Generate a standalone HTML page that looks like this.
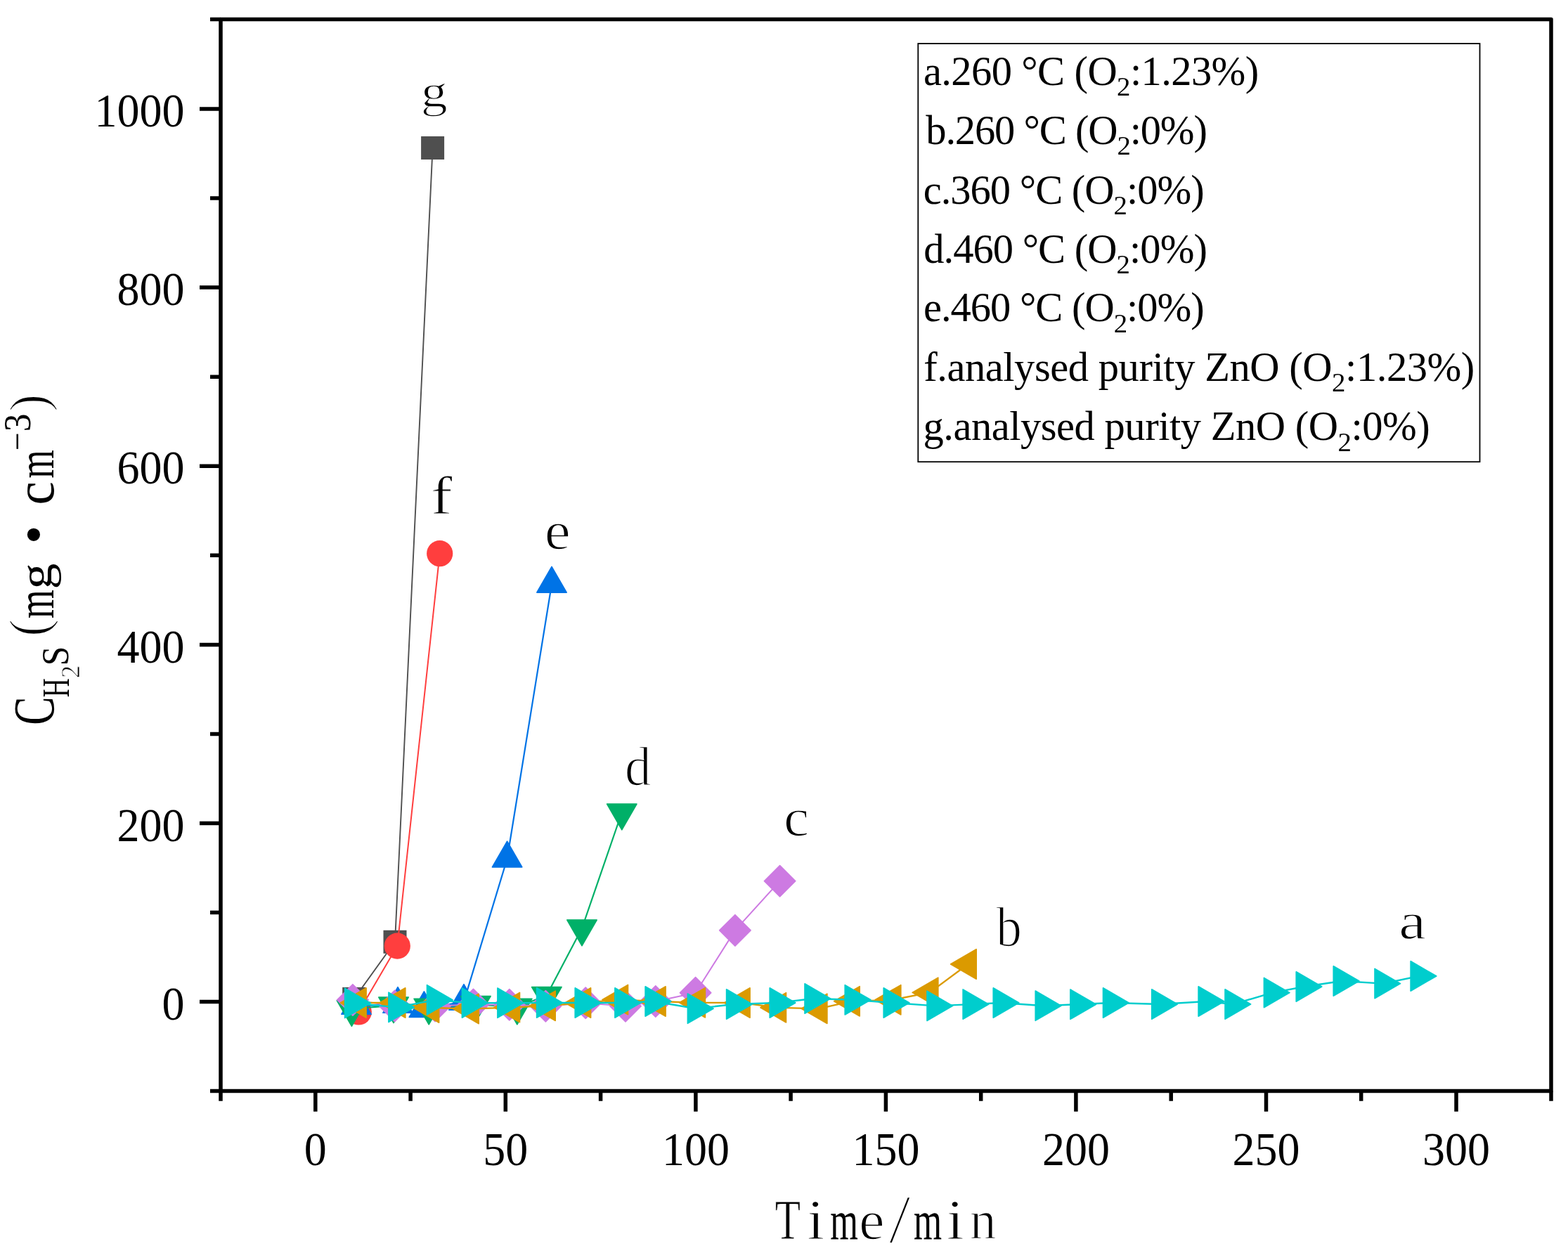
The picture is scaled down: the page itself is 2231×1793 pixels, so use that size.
<!DOCTYPE html><html><head><meta charset="utf-8"><title>H2S concentration vs time</title>
<style>html,body{margin:0;padding:0;background:#fff;overflow:hidden}svg{display:block}text{font-family:"Liberation Serif","Noto Serif CJK SC",serif;fill:#000;font-kerning:none}</style></head><body>
<svg width="2231" height="1793" viewBox="0 0 2231 1793">
<rect width="2231" height="1793" fill="#fff"/>
<polyline points="503.7,1421.4 562.0,1340.3 615.6,210.5" fill="none" stroke="#4f4f4f" stroke-width="1.9" stroke-linejoin="round"/>
<rect x="487.2" y="1404.9" width="33" height="33" fill="#4f4f4f"/>
<rect x="545.5" y="1323.8" width="33" height="33" fill="#4f4f4f"/>
<rect x="599.1" y="194.0" width="33" height="33" fill="#4f4f4f"/>
<polyline points="510.3,1440.0 565.3,1346.1 625.7,787.7" fill="none" stroke="#ff3e3e" stroke-width="2.0" stroke-linejoin="round"/>
<circle cx="510.3" cy="1440.0" r="18.6" fill="#ff3e3e"/>
<circle cx="565.3" cy="1346.1" r="18.6" fill="#ff3e3e"/>
<circle cx="625.7" cy="787.7" r="18.6" fill="#ff3e3e"/>
<polyline points="507.0,1431.4 566.0,1429.4 603.4,1435.6 660.0,1425.4 721.6,1222.0 785.0,831.2" fill="none" stroke="#0073e6" stroke-width="2.2" stroke-linejoin="round"/>
<polygon points="507.0,1406.7 528.2,1443.3 485.8,1443.3" fill="#0073e6" stroke="#0073e6" stroke-width="1.6" stroke-linejoin="round"/>
<polygon points="566.0,1404.7 587.2,1441.3 544.8,1441.3" fill="#0073e6" stroke="#0073e6" stroke-width="1.6" stroke-linejoin="round"/>
<polygon points="603.4,1410.9 624.6,1447.5 582.2,1447.5" fill="#0073e6" stroke="#0073e6" stroke-width="1.6" stroke-linejoin="round"/>
<polygon points="660.0,1400.7 681.2,1437.3 638.8,1437.3" fill="#0073e6" stroke="#0073e6" stroke-width="1.6" stroke-linejoin="round"/>
<polygon points="721.6,1197.2 742.8,1233.9 700.4,1233.9" fill="#0073e6" stroke="#0073e6" stroke-width="1.6" stroke-linejoin="round"/>
<polygon points="785.0,806.4 806.2,843.1 763.8,843.1" fill="#0073e6" stroke="#0073e6" stroke-width="1.6" stroke-linejoin="round"/>
<polyline points="500.4,1435.6 560.0,1430.9 610.2,1433.2 676.9,1429.4 735.8,1433.1 777.8,1416.4 828.0,1321.0 884.8,1156.0" fill="none" stroke="#00b068" stroke-width="2.2" stroke-linejoin="round"/>
<polygon points="500.4,1460.3 521.6,1423.7 479.2,1423.7" fill="#00b068" stroke="#00b068" stroke-width="1.6" stroke-linejoin="round"/>
<polygon points="560.0,1455.6 581.2,1419.0 538.8,1419.0" fill="#00b068" stroke="#00b068" stroke-width="1.6" stroke-linejoin="round"/>
<polygon points="610.2,1457.9 631.4,1421.2 589.0,1421.2" fill="#00b068" stroke="#00b068" stroke-width="1.6" stroke-linejoin="round"/>
<polygon points="676.9,1454.1 698.1,1417.5 655.7,1417.5" fill="#00b068" stroke="#00b068" stroke-width="1.6" stroke-linejoin="round"/>
<polygon points="735.8,1457.8 757.0,1421.2 714.6,1421.2" fill="#00b068" stroke="#00b068" stroke-width="1.6" stroke-linejoin="round"/>
<polygon points="777.8,1441.1 799.0,1404.5 756.6,1404.5" fill="#00b068" stroke="#00b068" stroke-width="1.6" stroke-linejoin="round"/>
<polygon points="828.0,1345.8 849.2,1309.1 806.8,1309.1" fill="#00b068" stroke="#00b068" stroke-width="1.6" stroke-linejoin="round"/>
<polygon points="884.8,1180.8 906.0,1144.1 863.6,1144.1" fill="#00b068" stroke="#00b068" stroke-width="1.6" stroke-linejoin="round"/>
<polyline points="501.9,1422.9 561.6,1431.4 619.0,1431.6 673.5,1429.5 724.8,1429.7 776.4,1431.8 833.2,1427.3 890.0,1431.8 932.8,1425.0 989.6,1412.7 1045.9,1323.9 1109.6,1253.7" fill="none" stroke="#cd7ae2" stroke-width="2.0" stroke-linejoin="round"/>
<polygon points="501.9,1400.7 524.1,1422.9 501.9,1445.1 479.7,1422.9" fill="#cd7ae2" stroke="#cd7ae2" stroke-width="1.6" stroke-linejoin="round"/>
<polygon points="561.6,1409.2 583.8,1431.4 561.6,1453.6 539.4,1431.4" fill="#cd7ae2" stroke="#cd7ae2" stroke-width="1.6" stroke-linejoin="round"/>
<polygon points="619.0,1409.4 641.2,1431.6 619.0,1453.8 596.8,1431.6" fill="#cd7ae2" stroke="#cd7ae2" stroke-width="1.6" stroke-linejoin="round"/>
<polygon points="673.5,1407.3 695.7,1429.5 673.5,1451.7 651.3,1429.5" fill="#cd7ae2" stroke="#cd7ae2" stroke-width="1.6" stroke-linejoin="round"/>
<polygon points="724.8,1407.5 747.0,1429.7 724.8,1451.9 702.6,1429.7" fill="#cd7ae2" stroke="#cd7ae2" stroke-width="1.6" stroke-linejoin="round"/>
<polygon points="776.4,1409.6 798.6,1431.8 776.4,1454.0 754.2,1431.8" fill="#cd7ae2" stroke="#cd7ae2" stroke-width="1.6" stroke-linejoin="round"/>
<polygon points="833.2,1405.1 855.4,1427.3 833.2,1449.5 811.0,1427.3" fill="#cd7ae2" stroke="#cd7ae2" stroke-width="1.6" stroke-linejoin="round"/>
<polygon points="890.0,1409.6 912.2,1431.8 890.0,1454.0 867.8,1431.8" fill="#cd7ae2" stroke="#cd7ae2" stroke-width="1.6" stroke-linejoin="round"/>
<polygon points="932.8,1402.8 955.0,1425.0 932.8,1447.2 910.6,1425.0" fill="#cd7ae2" stroke="#cd7ae2" stroke-width="1.6" stroke-linejoin="round"/>
<polygon points="989.6,1390.5 1011.8,1412.7 989.6,1434.9 967.4,1412.7" fill="#cd7ae2" stroke="#cd7ae2" stroke-width="1.6" stroke-linejoin="round"/>
<polygon points="1045.9,1301.7 1068.1,1323.9 1045.9,1346.1 1023.7,1323.9" fill="#cd7ae2" stroke="#cd7ae2" stroke-width="1.6" stroke-linejoin="round"/>
<polygon points="1109.6,1231.5 1131.8,1253.7 1109.6,1275.9 1087.4,1253.7" fill="#cd7ae2" stroke="#cd7ae2" stroke-width="1.6" stroke-linejoin="round"/>
<polyline points="509.2,1427.0 564.8,1427.0 612.6,1434.0 669.3,1435.5 727.5,1433.6 778.3,1431.3 828.7,1427.0 881.5,1422.6 935.2,1425.0 991.4,1426.8 1055.2,1427.0 1106.6,1433.8 1165.0,1435.3 1211.3,1424.8 1269.9,1422.8 1322.8,1412.4 1377.3,1372.0" fill="none" stroke="#db9a00" stroke-width="2.3" stroke-linejoin="round"/>
<polygon points="484.4,1427.0 521.1,1405.8 521.1,1448.2" fill="#db9a00" stroke="#db9a00" stroke-width="1.6" stroke-linejoin="round"/>
<polygon points="540.0,1427.0 576.8,1405.8 576.8,1448.2" fill="#db9a00" stroke="#db9a00" stroke-width="1.6" stroke-linejoin="round"/>
<polygon points="587.9,1434.0 624.6,1412.8 624.6,1455.2" fill="#db9a00" stroke="#db9a00" stroke-width="1.6" stroke-linejoin="round"/>
<polygon points="644.5,1435.5 681.2,1414.3 681.2,1456.7" fill="#db9a00" stroke="#db9a00" stroke-width="1.6" stroke-linejoin="round"/>
<polygon points="702.8,1433.6 739.5,1412.4 739.5,1454.8" fill="#db9a00" stroke="#db9a00" stroke-width="1.6" stroke-linejoin="round"/>
<polygon points="753.5,1431.3 790.2,1410.1 790.2,1452.5" fill="#db9a00" stroke="#db9a00" stroke-width="1.6" stroke-linejoin="round"/>
<polygon points="803.9,1427.0 840.6,1405.8 840.6,1448.2" fill="#db9a00" stroke="#db9a00" stroke-width="1.6" stroke-linejoin="round"/>
<polygon points="856.8,1422.6 893.5,1401.4 893.5,1443.8" fill="#db9a00" stroke="#db9a00" stroke-width="1.6" stroke-linejoin="round"/>
<polygon points="910.4,1425.0 947.1,1403.8 947.1,1446.2" fill="#db9a00" stroke="#db9a00" stroke-width="1.6" stroke-linejoin="round"/>
<polygon points="966.6,1426.8 1003.4,1405.6 1003.4,1448.0" fill="#db9a00" stroke="#db9a00" stroke-width="1.6" stroke-linejoin="round"/>
<polygon points="1030.5,1427.0 1067.1,1405.8 1067.1,1448.2" fill="#db9a00" stroke="#db9a00" stroke-width="1.6" stroke-linejoin="round"/>
<polygon points="1081.9,1433.8 1118.5,1412.6 1118.5,1455.0" fill="#db9a00" stroke="#db9a00" stroke-width="1.6" stroke-linejoin="round"/>
<polygon points="1140.2,1435.3 1176.9,1414.1 1176.9,1456.5" fill="#db9a00" stroke="#db9a00" stroke-width="1.6" stroke-linejoin="round"/>
<polygon points="1186.6,1424.8 1223.2,1403.6 1223.2,1446.0" fill="#db9a00" stroke="#db9a00" stroke-width="1.6" stroke-linejoin="round"/>
<polygon points="1245.2,1422.8 1281.8,1401.6 1281.8,1444.0" fill="#db9a00" stroke="#db9a00" stroke-width="1.6" stroke-linejoin="round"/>
<polygon points="1298.1,1412.4 1334.8,1391.2 1334.8,1433.6" fill="#db9a00" stroke="#db9a00" stroke-width="1.6" stroke-linejoin="round"/>
<polygon points="1352.6,1372.0 1389.2,1350.8 1389.2,1393.2" fill="#db9a00" stroke="#db9a00" stroke-width="1.6" stroke-linejoin="round"/>
<polyline points="502.6,1427.4 564.9,1433.4 619.5,1422.9 669.3,1427.1 719.9,1427.2 775.6,1427.0 830.2,1427.0 886.8,1427.0 930.1,1425.0 990.4,1435.2 1045.5,1429.0 1107.2,1427.0 1156.9,1421.0 1214.2,1422.8 1269.2,1427.0 1330.9,1431.4 1382.0,1429.1 1425.1,1427.0 1485.1,1431.2 1534.8,1429.2 1581.4,1427.0 1650.6,1429.0 1717.0,1425.0 1754.9,1429.0 1810.3,1412.6 1856.1,1404.0 1909.2,1396.0 1967.9,1399.6 2019.0,1389.0" fill="none" stroke="#00cdcd" stroke-width="2.4" stroke-linejoin="round"/>
<polygon points="527.4,1427.4 490.6,1406.2 490.6,1448.6" fill="#00cdcd" stroke="#00cdcd" stroke-width="1.6" stroke-linejoin="round"/>
<polygon points="589.6,1433.4 552.9,1412.2 552.9,1454.6" fill="#00cdcd" stroke="#00cdcd" stroke-width="1.6" stroke-linejoin="round"/>
<polygon points="644.2,1422.9 607.5,1401.7 607.5,1444.1" fill="#00cdcd" stroke="#00cdcd" stroke-width="1.6" stroke-linejoin="round"/>
<polygon points="694.1,1427.1 657.4,1405.9 657.4,1448.3" fill="#00cdcd" stroke="#00cdcd" stroke-width="1.6" stroke-linejoin="round"/>
<polygon points="744.6,1427.2 707.9,1406.0 707.9,1448.4" fill="#00cdcd" stroke="#00cdcd" stroke-width="1.6" stroke-linejoin="round"/>
<polygon points="800.4,1427.0 763.6,1405.8 763.6,1448.2" fill="#00cdcd" stroke="#00cdcd" stroke-width="1.6" stroke-linejoin="round"/>
<polygon points="855.0,1427.0 818.2,1405.8 818.2,1448.2" fill="#00cdcd" stroke="#00cdcd" stroke-width="1.6" stroke-linejoin="round"/>
<polygon points="911.6,1427.0 874.9,1405.8 874.9,1448.2" fill="#00cdcd" stroke="#00cdcd" stroke-width="1.6" stroke-linejoin="round"/>
<polygon points="954.9,1425.0 918.1,1403.8 918.1,1446.2" fill="#00cdcd" stroke="#00cdcd" stroke-width="1.6" stroke-linejoin="round"/>
<polygon points="1015.1,1435.2 978.4,1414.0 978.4,1456.4" fill="#00cdcd" stroke="#00cdcd" stroke-width="1.6" stroke-linejoin="round"/>
<polygon points="1070.2,1429.0 1033.6,1407.8 1033.6,1450.2" fill="#00cdcd" stroke="#00cdcd" stroke-width="1.6" stroke-linejoin="round"/>
<polygon points="1131.9,1427.0 1095.2,1405.8 1095.2,1448.2" fill="#00cdcd" stroke="#00cdcd" stroke-width="1.6" stroke-linejoin="round"/>
<polygon points="1181.6,1421.0 1145.0,1399.8 1145.0,1442.2" fill="#00cdcd" stroke="#00cdcd" stroke-width="1.6" stroke-linejoin="round"/>
<polygon points="1238.9,1422.8 1202.2,1401.6 1202.2,1444.0" fill="#00cdcd" stroke="#00cdcd" stroke-width="1.6" stroke-linejoin="round"/>
<polygon points="1293.9,1427.0 1257.2,1405.8 1257.2,1448.2" fill="#00cdcd" stroke="#00cdcd" stroke-width="1.6" stroke-linejoin="round"/>
<polygon points="1355.6,1431.4 1319.0,1410.2 1319.0,1452.6" fill="#00cdcd" stroke="#00cdcd" stroke-width="1.6" stroke-linejoin="round"/>
<polygon points="1406.8,1429.1 1370.1,1407.9 1370.1,1450.3" fill="#00cdcd" stroke="#00cdcd" stroke-width="1.6" stroke-linejoin="round"/>
<polygon points="1449.8,1427.0 1413.2,1405.8 1413.2,1448.2" fill="#00cdcd" stroke="#00cdcd" stroke-width="1.6" stroke-linejoin="round"/>
<polygon points="1509.8,1431.2 1473.2,1410.0 1473.2,1452.4" fill="#00cdcd" stroke="#00cdcd" stroke-width="1.6" stroke-linejoin="round"/>
<polygon points="1559.5,1429.2 1522.9,1408.0 1522.9,1450.4" fill="#00cdcd" stroke="#00cdcd" stroke-width="1.6" stroke-linejoin="round"/>
<polygon points="1606.1,1427.0 1569.5,1405.8 1569.5,1448.2" fill="#00cdcd" stroke="#00cdcd" stroke-width="1.6" stroke-linejoin="round"/>
<polygon points="1675.3,1429.0 1638.7,1407.8 1638.7,1450.2" fill="#00cdcd" stroke="#00cdcd" stroke-width="1.6" stroke-linejoin="round"/>
<polygon points="1741.8,1425.0 1705.1,1403.8 1705.1,1446.2" fill="#00cdcd" stroke="#00cdcd" stroke-width="1.6" stroke-linejoin="round"/>
<polygon points="1779.6,1429.0 1743.0,1407.8 1743.0,1450.2" fill="#00cdcd" stroke="#00cdcd" stroke-width="1.6" stroke-linejoin="round"/>
<polygon points="1835.0,1412.6 1798.4,1391.4 1798.4,1433.8" fill="#00cdcd" stroke="#00cdcd" stroke-width="1.6" stroke-linejoin="round"/>
<polygon points="1880.8,1404.0 1844.2,1382.8 1844.2,1425.2" fill="#00cdcd" stroke="#00cdcd" stroke-width="1.6" stroke-linejoin="round"/>
<polygon points="1933.9,1396.0 1897.2,1374.8 1897.2,1417.2" fill="#00cdcd" stroke="#00cdcd" stroke-width="1.6" stroke-linejoin="round"/>
<polygon points="1992.6,1399.6 1956.0,1378.4 1956.0,1420.8" fill="#00cdcd" stroke="#00cdcd" stroke-width="1.6" stroke-linejoin="round"/>
<polygon points="2043.8,1389.0 2007.1,1367.8 2007.1,1410.2" fill="#00cdcd" stroke="#00cdcd" stroke-width="1.6" stroke-linejoin="round"/>
<path d="M314.0,1552.5 L314.0,27.5 L2207.0,27.5 L2207.0,1552.5 Z" fill="none" stroke="#000" stroke-width="5.5" stroke-linejoin="round"/>
<path d="M299.0,1552.5 L314.0,1552.5 M284.0,1425.6 L314.0,1425.6 M299.0,1298.5 L314.0,1298.5 M284.0,1171.5 L314.0,1171.5 M299.0,1044.4 L314.0,1044.4 M284.0,917.4 L314.0,917.4 M299.0,790.3 L314.0,790.3 M284.0,663.2 L314.0,663.2 M299.0,536.2 L314.0,536.2 M284.0,409.1 L314.0,409.1 M299.0,282.1 L314.0,282.1 M284.0,155.0 L314.0,155.0 M299.0,27.5 L314.0,27.5 M314.0,1552.5 L314.0,1566.7 M448.8,1552.5 L448.8,1581.7 M584.1,1552.5 L584.1,1566.7 M719.3,1552.5 L719.3,1581.7 M854.6,1552.5 L854.6,1566.7 M989.9,1552.5 L989.9,1581.7 M1125.1,1552.5 L1125.1,1566.7 M1260.4,1552.5 L1260.4,1581.7 M1395.7,1552.5 L1395.7,1566.7 M1530.9,1552.5 L1530.9,1581.7 M1666.2,1552.5 L1666.2,1566.7 M1801.5,1552.5 L1801.5,1581.7 M1936.7,1552.5 L1936.7,1566.7 M2072.0,1552.5 L2072.0,1581.7 M2207.0,1552.5 L2207.0,1566.7" stroke="#000" stroke-width="5.5" fill="none"/>
<text font-size="64" text-anchor="end" transform="translate(262.4 1450.7) scale(1 1.052)">0</text>
<text font-size="64" text-anchor="end" transform="translate(262.4 1196.6) scale(1 1.052)">200</text>
<text font-size="64" text-anchor="end" transform="translate(262.4 942.5) scale(1 1.052)">400</text>
<text font-size="64" text-anchor="end" transform="translate(262.4 688.3) scale(1 1.052)">600</text>
<text font-size="64" text-anchor="end" transform="translate(262.4 434.2) scale(1 1.052)">800</text>
<text font-size="64" text-anchor="end" transform="translate(262.4 180.1) scale(1 1.052)">1000</text>
<text font-size="64" text-anchor="middle" transform="translate(448.8 1657.6) scale(1 1.055)">0</text>
<text font-size="64" text-anchor="middle" transform="translate(719.3 1657.6) scale(1 1.055)">50</text>
<text font-size="64" text-anchor="middle" transform="translate(989.9 1657.6) scale(1 1.055)">100</text>
<text font-size="64" text-anchor="middle" transform="translate(1260.4 1657.6) scale(1 1.055)">150</text>
<text font-size="64" text-anchor="middle" transform="translate(1530.9 1657.6) scale(1 1.055)">200</text>
<text font-size="64" text-anchor="middle" transform="translate(1801.5 1657.6) scale(1 1.055)">250</text>
<text font-size="64" text-anchor="middle" transform="translate(2072.0 1657.6) scale(1 1.055)">300</text>
<g><text font-size="80" stroke="#fff" stroke-width="0.79" transform="matrix(0.7422 0 0 1.0172 1102.83 1762.50)">T</text><text font-size="80" stroke="#fff" stroke-width="1.29" transform="matrix(1.1272 0 0 1.0064 1148.33 1762.50)">i</text><text font-size="80" transform="matrix(0.6377 0 0 0.9687 1181.23 1762.50)">m</text><text font-size="80" stroke="#fff" stroke-width="1.65" transform="matrix(1.0338 0 0 0.9693 1222.07 1762.52)">e</text><text font-size="80" stroke="#fff" stroke-width="1.93" transform="matrix(1.4311 0 0 1.2444 1264.14 1767.90)">/</text><text font-size="80" transform="matrix(0.6444 0 0 0.9687 1299.92 1762.50)">m</text><text font-size="80" stroke="#fff" stroke-width="1.29" transform="matrix(1.1272 0 0 1.0064 1346.78 1762.50)">i</text><text font-size="80" stroke="#fff" stroke-width="1.55" transform="matrix(0.9470 0 0 0.9687 1379.66 1762.50)">n</text></g>
<g><text font-size="80" transform="matrix(0 -0.7553 1.0193 0 75.78 1031.78)">C</text><text font-size="80" transform="matrix(0 -0.4669 0.6775 0 97.90 992.18)">H</text><text font-size="80" stroke="#fff" stroke-width="1.76" transform="matrix(0 -0.4551 0.4815 0 112.70 964.90)">2</text><text font-size="80" transform="matrix(0 -0.6206 0.6901 0 97.35 947.23)">S</text><text font-size="80" stroke="#fff" stroke-width="1.72" transform="matrix(0 -0.9290 0.9730 0 66.82 905.67)">(</text><text font-size="80" transform="matrix(0 -0.6545 0.9581 0 75.80 880.00)">m</text><text font-size="80" transform="matrix(0 -0.9247 0.8076 0 72.84 838.38)">g</text><text font-size="80" transform="matrix(0 -0.9611 0.9506 0 73.02 774.21)">•</text><text font-size="80" transform="matrix(0 -0.9400 0.9693 0 75.92 718.46)">c</text><text font-size="80" transform="matrix(0 -0.6461 0.9262 0 76.30 680.39)">m</text><text font-size="80" transform="matrix(0 -0.5699 0.6500 0 41.56 641.18)">−</text><text font-size="80" transform="matrix(0 -0.6416 0.6771 0 42.86 614.16)">3</text><text font-size="80" stroke="#fff" stroke-width="1.71" transform="matrix(0 -0.9339 0.9606 0 66.43 585.79)">)</text></g>
<g><text font-size="80" stroke="#fff" stroke-width="1.72" transform="matrix(0.9503 0 0 0.8128 598.63 151.56)">g</text><text font-size="80" stroke="#fff" stroke-width="1.28" transform="matrix(1.1589 0 0 0.9393 612.63 730.70)">f</text><text font-size="80" stroke="#fff" stroke-width="1.47" transform="matrix(1.0439 0 0 0.9537 774.64 780.94)">e</text><text font-size="80" stroke="#fff" stroke-width="1.63" transform="matrix(0.9375 0 0 0.9801 889.10 1116.72)">d</text><text font-size="80" stroke="#fff" stroke-width="1.47" transform="matrix(1.0200 0 0 0.9511 1114.90 1189.44)">c</text><text font-size="80" stroke="#fff" stroke-width="1.59" transform="matrix(0.9145 0 0 1.0050 1417.20 1345.80)">b</text><text font-size="80" stroke="#fff" stroke-width="1.50" transform="matrix(1.1044 0 0 0.9342 1990.01 1335.75)">a</text></g>
<rect x="1306.3" y="62.0" width="799.2" height="595.2" fill="none" stroke="#000" stroke-width="1.8"/>
<text x="1313.95" y="121.0" font-size="58.5" textLength="477.2" lengthAdjust="spacing">a.260 °C (O<tspan font-size="38.8" dy="15.4">2</tspan><tspan dy="-15.4">:1.23%)</tspan></text>
<text x="1317.30" y="204.9" font-size="58.5" textLength="400.6" lengthAdjust="spacing">b.260 °C (O<tspan font-size="38.8" dy="15.4">2</tspan><tspan dy="-15.4">:0%)</tspan></text>
<text x="1313.68" y="290.0" font-size="58.5" textLength="400.1" lengthAdjust="spacing">c.360 °C (O<tspan font-size="38.8" dy="15.4">2</tspan><tspan dy="-15.4">:0%)</tspan></text>
<text x="1314.19" y="373.7" font-size="58.5" textLength="403.7" lengthAdjust="spacing">d.460 °C (O<tspan font-size="38.8" dy="15.4">2</tspan><tspan dy="-15.4">:0%)</tspan></text>
<text x="1314.02" y="457.3" font-size="58.5" textLength="399.8" lengthAdjust="spacing">e.460 °C (O<tspan font-size="38.8" dy="15.4">2</tspan><tspan dy="-15.4">:0%)</tspan></text>
<text x="1314.19" y="541.6" font-size="58.5" textLength="784.1" lengthAdjust="spacing">f.analysed purity ZnO (O<tspan font-size="38.8" dy="15.4">2</tspan><tspan dy="-15.4">:1.23%)</tspan></text>
<text x="1313.48" y="626.4" font-size="58.5" textLength="721.3" lengthAdjust="spacing">g.analysed purity ZnO (O<tspan font-size="38.8" dy="15.4">2</tspan><tspan dy="-15.4">:0%)</tspan></text>
</svg></body></html>
